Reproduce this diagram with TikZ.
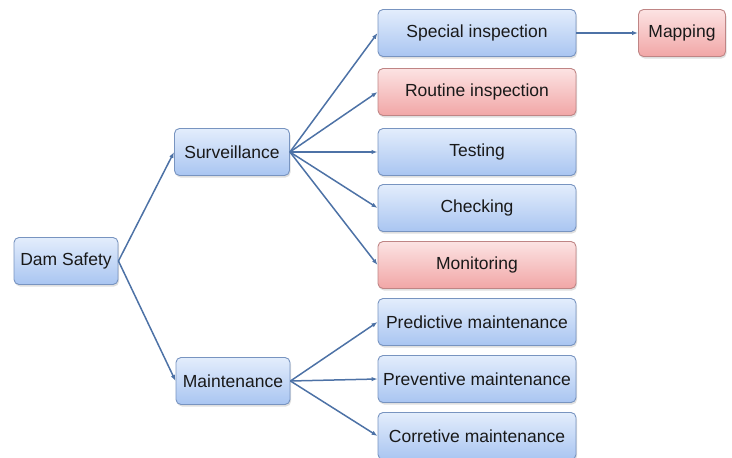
\documentclass[tikz,border=0pt]{standalone}
\usepackage{fontspec}
\setmainfont{Liberation Sans}
\usetikzlibrary{arrows.meta,shadows}

\definecolor{blueline}{HTML}{7894C0}
\definecolor{bluetop}{HTML}{E3EDFC}
\definecolor{bluebot}{HTML}{A9C5F1}
\definecolor{redline}{HTML}{BF8585}
\definecolor{redtop}{HTML}{FCE3E3}
\definecolor{redbot}{HTML}{F1A6A6}
\definecolor{arrowblue}{HTML}{4D72A6}

\tikzset{
  bluebox/.style={draw=blueline, line width=0.9pt, rounded corners=5pt,
    top color=bluetop, bottom color=bluebot, text=black!90,
    drop shadow={opacity=0.25, shadow xshift=1pt, shadow yshift=-2pt},
    minimum height=47pt, inner sep=0pt, font=\fontsize{17.5}{20}\selectfont},
  redbox/.style={bluebox, draw=redline, top color=redtop, bottom color=redbot},
  link/.style={draw=arrowblue, line width=1.5pt, -{Latex[length=6pt,width=4.5pt]}}
}

\begin{document}
\begin{tikzpicture}[x=1pt, y=-1pt]
\useasboundingbox (0,0) rectangle (732,458);
% left part of the tree
\node at (66,261) [bluebox, minimum width=104pt] (dam safety) {Dam Safety};
\node at (232,152) [bluebox, minimum width=115pt] (Surveillance) {Surveillance};
\node at (233,381) [bluebox, minimum width=114pt] (Maintenance) {Maintenance};
% surveillance branch
\node at (477,33) [bluebox, minimum width=198pt] (Special) {Special inspection};
\node at (682,33) [redbox, minimum width=87pt] (Mapping) {Mapping};
\node at (477,92) [redbox, minimum width=198pt] (Routine) {Routine inspection};
\node at (477,152) [bluebox, minimum width=198pt] (Testing) {Testing};
\node at (477,208) [bluebox, minimum width=198pt] (Checking) {Checking};
\node at (477,265) [redbox, minimum width=198pt] (Monitoring) {Monitoring};
% maintenance branch
\node at (477,322) [bluebox, minimum width=198pt] (Predictive) {Predictive maintenance};
\node at (477,379) [bluebox, minimum width=198pt] (Preventive) {Preventive maintenance};
\node at (477,436) [bluebox, minimum width=198pt] (Corretive) {Corretive maintenance};
% connectors
\draw [link] (dam safety.east) -- (Surveillance.west);
\draw [link] (dam safety.east) -- (Maintenance.west);
\foreach \target in {Special, Routine, Testing, Checking, Monitoring}
  \draw [link] (Surveillance.east) -- (\target.west);
\foreach \target in {Predictive, Preventive, Corretive}
  \draw [link] (Maintenance.east) -- (\target.west);
\draw [link] (Special.east) -- (Mapping.west);
\end{tikzpicture}
\end{document}
